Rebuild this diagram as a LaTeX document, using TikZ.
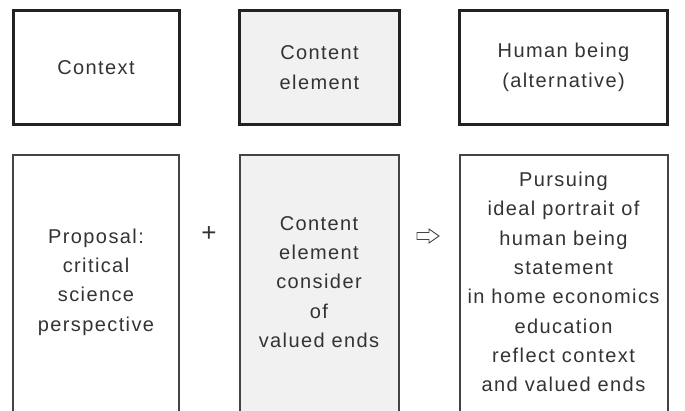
\documentclass[tikz,border=0pt]{standalone}
\usepackage{fontspec}
\setmainfont[LetterSpace=7]{Liberation Sans}
\definecolor{txt}{HTML}{333333}
\definecolor{topline}{HTML}{222222}
\definecolor{botline}{HTML}{444444}
\definecolor{grayfill}{HTML}{F1F1F1}
\tikzset{
  topbox/.style={draw=topline, line width=3pt, rectangle, inner sep=0pt,
    minimum height=113.5pt, text=txt, align=center,
    font=\fontsize{20}{29.5}\selectfont},
  botbox/.style={draw=botline, line width=2pt, rectangle, inner sep=0pt,
    minimum height=280pt, anchor=north},
  bottext/.style={text=txt, align=center, inner sep=0pt,
    font=\fontsize{20}{29.3}\selectfont},
  shaded/.style={fill=grayfill},
  opsign/.style={text=txt, inner sep=0pt, font=\fontsize{26}{30}\selectfont},
  implyarrow/.style={draw=botline, line width=0.9pt, fill=white, line join=miter}
}
\begin{document}
\begin{tikzpicture}[x=1pt,y=-1pt]
\clip (0,0) rectangle (685,410);
\fill[white] (0,0) rectangle (685,410);
% top row
\node[topbox, minimum width=166pt] (ctx) at (96,67.5) {Context};
\node[topbox, shaded, minimum width=160pt] (cel) at (319.5,67.5) {Content\\element};
\node[topbox, minimum width=208pt] (hum) at (563.5,67.5) {Human being\\(alternative)};
% bottom row boxes (open at the bottom edge of the picture)
\node[botbox, minimum width=166pt] (propbox) at (96,154) {};
\node[botbox, shaded, minimum width=159pt] (consbox) at (319,154) {};
\node[botbox, minimum width=208pt] (pursbox) at (563.5,154) {};
% bottom row texts
\node[bottext] (prop) at (96,282) {Proposal:\\critical\\science\\perspective};
\node[bottext] (cons) at (319,282) {Content\\element\\consider\\of\\valued ends};
\node[bottext] (purs) at (563.5,282) {Pursuing\\ideal portrait of\\human being\\statement\\in home economics\\education\\reflect context\\and valued ends};
% operators
\node[opsign] (plus) at (209,234) {+};
\coordinate (imp) at (428,236);
\draw[implyarrow] ([shift={(-11,-3.5)}]imp) -- ([shift={(1,-3.5)}]imp) -- ([shift={(1,-7)}]imp)
  -- ([shift={(11,0)}]imp) -- ([shift={(1,7)}]imp) -- ([shift={(1,3.5)}]imp)
  -- ([shift={(-11,3.5)}]imp) -- cycle;
\end{tikzpicture}
\end{document}
